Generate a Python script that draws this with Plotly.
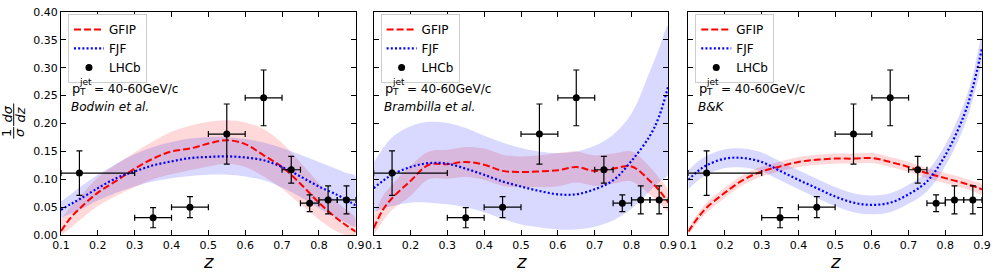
import plotly.graph_objects as go

# ---------------- data ----------------
z_grid = [0.1, 0.125, 0.15, 0.2, 0.25, 0.3, 0.35, 0.4, 0.45, 0.5, 0.55, 0.6, 0.65, 0.7, 0.75, 0.8, 0.85, 0.875, 0.9]

# Panel 1: Bodwin et al.
bod_gfip = [0.007, 0.03, 0.047, 0.076, 0.097, 0.119, 0.137, 0.150, 0.155, 0.164, 0.170, 0.163, 0.143, 0.122, 0.092, 0.058, 0.029, 0.017, 0.006]
bod_gfip_hi = [0.028, 0.05, 0.068, 0.103, 0.127, 0.148, 0.168, 0.185, 0.196, 0.203, 0.206, 0.202, 0.19, 0.165, 0.13, 0.093, 0.058, 0.045, 0.03]
bod_gfip_lo = [0.0, 0.012, 0.026, 0.052, 0.07, 0.086, 0.1, 0.109, 0.116, 0.123, 0.128, 0.122, 0.105, 0.083, 0.055, 0.028, 0.006, 0.0, 0.0]
bod_fjf = [0.045, 0.055, 0.064, 0.084, 0.102, 0.114, 0.125, 0.132, 0.138, 0.140, 0.141, 0.139, 0.134, 0.122, 0.105, 0.087, 0.072, 0.063, 0.053]
bod_fjf_hi = [0.06, 0.072, 0.085, 0.108, 0.128, 0.145, 0.158, 0.167, 0.173, 0.176, 0.176, 0.172, 0.166, 0.156, 0.144, 0.131, 0.118, 0.111, 0.105]
bod_fjf_lo = [0.03, 0.038, 0.045, 0.062, 0.076, 0.087, 0.096, 0.102, 0.106, 0.108, 0.108, 0.105, 0.098, 0.085, 0.068, 0.048, 0.03, 0.022, 0.015]

# Panel 2: Brambilla et al.
bra_gfip = [0.012, 0.045, 0.066, 0.097, 0.126, 0.127, 0.131, 0.126, 0.115, 0.113, 0.114, 0.116, 0.122, 0.115, 0.119, 0.123, 0.097, 0.08, 0.058]
bra_gfip_hi = [0.035, 0.07, 0.09, 0.124, 0.15, 0.153, 0.158, 0.155, 0.144, 0.141, 0.143, 0.147, 0.15, 0.143, 0.146, 0.15, 0.122, 0.102, 0.08]
bra_gfip_lo = [0.0, 0.025, 0.045, 0.07, 0.1, 0.101, 0.104, 0.099, 0.088, 0.086, 0.086, 0.087, 0.094, 0.088, 0.092, 0.096, 0.072, 0.058, 0.043]
bra_fjf = [0.084, 0.097, 0.108, 0.122, 0.129, 0.128, 0.119, 0.108, 0.096, 0.087, 0.079, 0.073, 0.073, 0.082, 0.098, 0.133, 0.178, 0.213, 0.268]
bra_fjf_hi = [0.13, 0.155, 0.175, 0.195, 0.203, 0.201, 0.192, 0.178, 0.166, 0.156, 0.15, 0.147, 0.15, 0.16, 0.18, 0.218, 0.294, 0.335, 0.376]
bra_fjf_lo = [0.041, 0.047, 0.052, 0.058, 0.058, 0.055, 0.05, 0.041, 0.029, 0.019, 0.014, 0.01, 0.01, 0.015, 0.026, 0.047, 0.079, 0.095, 0.11]

# Panel 3: B&K
bk_gfip = [0.006, 0.03, 0.049, 0.076, 0.099, 0.114, 0.123, 0.131, 0.135, 0.137, 0.137, 0.138, 0.131, 0.122, 0.111, 0.102, 0.093, 0.088, 0.082]
bk_gfip_hi = [0.012, 0.038, 0.058, 0.085, 0.108, 0.123, 0.132, 0.140, 0.144, 0.146, 0.146, 0.147, 0.140, 0.131, 0.120, 0.111, 0.102, 0.097, 0.091]
bk_gfip_lo = [0.0, 0.022, 0.040, 0.067, 0.090, 0.105, 0.114, 0.122, 0.126, 0.128, 0.128, 0.129, 0.122, 0.113, 0.102, 0.093, 0.084, 0.079, 0.073]
bk_fjf = [0.099, 0.114, 0.125, 0.137, 0.138, 0.131, 0.115, 0.099, 0.084, 0.069, 0.058, 0.054, 0.058, 0.073, 0.096, 0.143, 0.213, 0.265, 0.335]
bk_fjf_hi = [0.116, 0.131, 0.142, 0.154, 0.155, 0.148, 0.132, 0.116, 0.101, 0.086, 0.075, 0.071, 0.075, 0.090, 0.114, 0.162, 0.234, 0.287, 0.358]
bk_fjf_lo = [0.082, 0.097, 0.108, 0.120, 0.121, 0.114, 0.098, 0.082, 0.067, 0.052, 0.041, 0.037, 0.041, 0.056, 0.078, 0.124, 0.192, 0.243, 0.312]

# LHCb data
lhcb_z = [0.15, 0.35, 0.45, 0.55, 0.65, 0.725, 0.775, 0.825, 0.875]
lhcb_y = [0.111, 0.031, 0.050, 0.181, 0.246, 0.117, 0.057, 0.063, 0.063]
lhcb_yerr = [0.040, 0.018, 0.019, 0.054, 0.050, 0.024, 0.015, 0.025, 0.025]
lhcb_zerr_lo = [0.05, 0.05, 0.05, 0.05, 0.05, 0.025, 0.025, 0.025, 0.025]
lhcb_zerr_hi = [0.15, 0.05, 0.05, 0.05, 0.05, 0.025, 0.025, 0.025, 0.025]

panel_labels = ["Bodwin et al.", "Brambilla et al.", "B&K"]
x_ticks = [0.1, 0.2, 0.3, 0.4, 0.5, 0.6, 0.7, 0.8, 0.9]
x_ticktext = ["0.1", "0.2", "0.3", "0.4", "0.5", "0.6", "0.7", "0.8", "0.9"]
y_ticks = [0.0, 0.05, 0.10, 0.15, 0.20, 0.25, 0.30, 0.35, 0.40]
y_ticktext = ["0.00", "0.05", "0.10", "0.15", "0.20", "0.25", "0.30", "0.35", "0.40"]

panels = [
    (bod_gfip, bod_gfip_hi, bod_gfip_lo, bod_fjf, bod_fjf_hi, bod_fjf_lo),
    (bra_gfip, bra_gfip_hi, bra_gfip_lo, bra_fjf, bra_fjf_hi, bra_fjf_lo),
    (bk_gfip, bk_gfip_hi, bk_gfip_lo, bk_fjf, bk_fjf_hi, bk_fjf_lo),
]

# ---------------- geometry ----------------
W, H = 997, 274
L, R, T, B = 61, 11, 6, 39
PW = W - L - R
PH = H - T - B
panel_px = [(61, 357), (375, 671), (691, 986)]


def px2paper_x(px):
    return (px - L) / PW


def py2paper_y(py):
    return (H - B - py) / PH


FONT = "DejaVu Sans"
RED = "#ff0000"
BLUE = "#0000ff"
PINK_FILL = "rgba(255,0,0,0.15)"
BLUE_FILL = "rgba(0,0,255,0.15)"

fig = go.Figure()
legends = ["legend", "legend2", "legend3"]

for i, (g, gh, gl, f, fh, fl) in enumerate(panels):
    xa = "x" if i == 0 else f"x{i+1}"
    ya = "y" if i == 0 else f"y{i+1}"
    lg = legends[i]
    # bands
    fig.add_trace(go.Scatter(x=z_grid + z_grid[::-1], y=gh + gl[::-1], fill="toself",
                             fillcolor=PINK_FILL, line=dict(width=0, shape="spline"),
                             mode="lines", hoverinfo="skip", showlegend=False, xaxis=xa, yaxis=ya))
    fig.add_trace(go.Scatter(x=z_grid + z_grid[::-1], y=fh + fl[::-1], fill="toself",
                             fillcolor=BLUE_FILL, line=dict(width=0, shape="spline"),
                             mode="lines", hoverinfo="skip", showlegend=False, xaxis=xa, yaxis=ya))
    # curves
    fig.add_trace(go.Scatter(x=z_grid, y=g, mode="lines", name="GFIP",
                             line=dict(color=RED, width=2, dash="7px,3px", shape="spline"),
                             legend=lg, xaxis=xa, yaxis=ya))
    fig.add_trace(go.Scatter(x=z_grid, y=f, mode="lines", name="FJF",
                             line=dict(color=BLUE, width=2.2, dash="2px,2.2px", shape="spline"),
                             legend=lg, xaxis=xa, yaxis=ya))
    # data
    fig.add_trace(go.Scatter(x=lhcb_z, y=lhcb_y, mode="markers", name="LHCb",
                             marker=dict(color="black", size=7),
                             error_y=dict(type="data", array=lhcb_yerr, color="black", thickness=1.2, width=3),
                             error_x=dict(type="data", symmetric=False, array=lhcb_zerr_hi,
                                          arrayminus=lhcb_zerr_lo, color="black", thickness=1.2, width=3),
                             legend=lg, xaxis=xa, yaxis=ya))

layout = dict(
    width=W, height=H,
    margin=dict(l=L, r=R, t=T, b=B, pad=0),
    paper_bgcolor="white", plot_bgcolor="white",
    font=dict(family=FONT, size=11, color="black"),
    showlegend=True,
)

axis_common = dict(showline=True, linecolor="black", linewidth=1, mirror="allticks",
                   ticks="inside", ticklen=5, tickwidth=1, tickcolor="black",
                   showgrid=False, zeroline=False, tickfont=dict(family=FONT, size=11))

annotations = []
shapes = []
for i, (p0, p1) in enumerate(panel_px):
    xk = "xaxis" if i == 0 else f"xaxis{i+1}"
    yk = "yaxis" if i == 0 else f"yaxis{i+1}"
    ya = "y" if i == 0 else f"y{i+1}"
    xa = "x" if i == 0 else f"x{i+1}"
    layout[xk] = dict(axis_common, domain=[px2paper_x(p0), px2paper_x(p1)], range=[0.1, 0.9],
                      tickvals=x_ticks, ticktext=x_ticktext, anchor=ya)
    layout[yk] = dict(axis_common, domain=[0, 1], range=[0, 0.4], tickvals=y_ticks,
                      ticktext=y_ticktext, showticklabels=(i == 0), anchor=xa)
    # legend
    layout[legends[i]] = dict(x=px2paper_x(p0 + 7), y=py2paper_y(8), xanchor="left", yanchor="top",
                              bgcolor="white", bordercolor="#cccccc", borderwidth=1,
                              font=dict(family=FONT, size=12), itemwidth=30,
                              tracegroupgap=0)
    # texts
    annotations.append(dict(xref="paper", yref="paper", x=px2paper_x(p0 + 9), y=py2paper_y(85),
                            text="p", showarrow=False, xanchor="left", yanchor="middle",
                            font=dict(family=FONT, size=13)))
    annotations.append(dict(xref="paper", yref="paper", x=px2paper_x(p0 + 16), y=py2paper_y(78),
                            text="jet", showarrow=False, xanchor="left", yanchor="middle",
                            font=dict(family=FONT, size=9)))
    annotations.append(dict(xref="paper", yref="paper", x=px2paper_x(p0 + 16), y=py2paper_y(88),
                            text="T", showarrow=False, xanchor="left", yanchor="middle",
                            font=dict(family=FONT, size=9)))
    annotations.append(dict(xref="paper", yref="paper", x=px2paper_x(p0 + 31), y=py2paper_y(85),
                            text="= 40-60GeV/c", showarrow=False, xanchor="left", yanchor="middle",
                            font=dict(family=FONT, size=12)))
    annotations.append(dict(xref="paper", yref="paper", x=px2paper_x(p0 + 8), y=py2paper_y(104),
                            text=f"<i>{panel_labels[i]}</i>", showarrow=False, xanchor="left",
                            yanchor="middle", font=dict(family=FONT, size=12)))
    # x-axis label
    annotations.append(dict(xref="paper", yref="paper", x=px2paper_x((p0 + p1) / 2), y=py2paper_y(262),
                            text="<i>z</i>", showarrow=False, xanchor="center", yanchor="middle",
                            font=dict(family=FONT, size=18)))

# y-axis label: (1/σ)(dσ/dz), rotated
ylab = [("1", 7, 130), ("<i>σ</i>", 20, 130), ("<i>dσ</i>", 7, 111), ("<i>dz</i>", 20, 111)]
for txt, px, py in ylab:
    annotations.append(dict(xref="paper", yref="paper", x=px2paper_x(px), y=py2paper_y(py), text=txt,
                            showarrow=False, textangle=-90, xanchor="center", yanchor="middle",
                            font=dict(family=FONT, size=13)))
for (ya0, ya1) in [(124, 136), (100, 123)]:
    shapes.append(dict(type="line", xref="paper", yref="paper", x0=px2paper_x(13.5), x1=px2paper_x(13.5),
                       y0=py2paper_y(ya0), y1=py2paper_y(ya1), line=dict(color="black", width=1)))

layout["annotations"] = annotations
layout["shapes"] = shapes
fig.update_layout(**layout)

fig.write_html("out.html", config={"displayModeBar": False},
               post_script="document.body.style.margin='0';document.body.style.padding='0';")
